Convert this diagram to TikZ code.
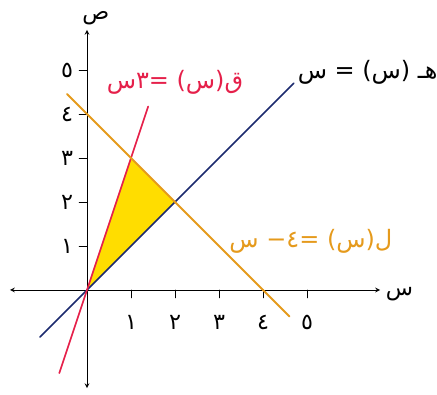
\documentclass[tikz,border=0pt]{standalone}
\usepackage{fontspec}
\newfontfamily\arabicfont[Script=Arabic]{DejaVu Sans}
\TeXXeTstate=1
\definecolor{hline}{HTML}{1C2A6E}
\definecolor{qline}{HTML}{E5204A}
\definecolor{lline}{HTML}{E59A1C}
\definecolor{tri}{HTML}{FFDD00}
\tikzset{ticklbl/.style={font=\arabicfont\Large},
	fnlbl/.style={font=\arabicfont\fontsize{15.5}{18}\selectfont}}
\begin{document}
\begin{tikzpicture}[line cap=round,>=stealth]
	\useasboundingbox (-1.977,-2.364) rectangle (7.955,6.591);
	% shaded region
	\fill[tri] (0,0)--(1,3)--(2,2)--cycle;
	\draw[<->,thin] (-1.75,0)--(6.66,0);
	\draw[<->,thin] (0,-2.23)--(0,5.91);
	\node (sAx) at (7.1,-0.1) {\arabicfont\Large س};
	\node (yAx) at (0.2,6.18) {\arabicfont\Large ص};
	\foreach \i/\d in {1/١,2/٢,3/٣,4/٤,5/٥}{
		\draw[thin] (\i,0)--(\i,-0.18);
		\node[ticklbl] (xt\i) at (\i,-0.73) {\d};
		\draw[thin] (0,\i)--(-0.18,\i);
		\node[ticklbl] (yt\i) at (-0.45,\i) {\d};
	}
	\draw[hline,line width=1.1pt,samples=2,domain=-1.07:4.7,variable=\x] plot (\x,{\x});
	\draw[qline,line width=1.1pt,samples=2,domain=-0.63:1.39,variable=\x] plot (\x,{3*\x});
	\draw[lline,line width=1.3pt,samples=2,domain=-0.45:4.6,variable=\x] plot (\x,{4-\x});
	\node[fnlbl,text=qline] (qLbl) at (2.0,4.73) {\beginR ق(س) =٣س\endR};
	\node[fnlbl] (hLbl) at (6.38,4.95) {\beginR هـ (س) = س\endR};
	\node[fnlbl,text=lline] (lLbl) at (5.09,1.11) {\beginR ل(س) =٤− س\endR};
\end{tikzpicture}
\end{document}
